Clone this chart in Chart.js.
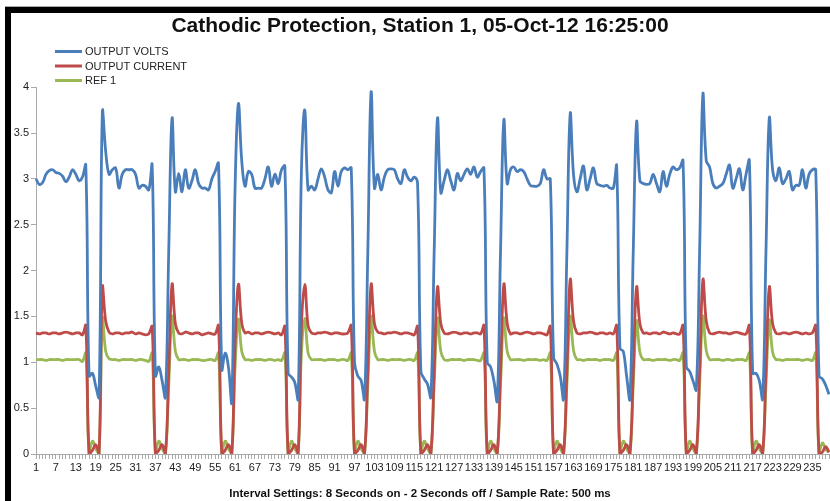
<!DOCTYPE html>
<html>
<head>
<meta charset="utf-8">
<script src="https://cdn.jsdelivr.net/npm/chart.js@4.4.1/dist/chart.umd.min.js"></script>
<style>
  html, body { margin: 0; padding: 0; background: #fff; overflow: hidden; width: 830px; height: 501px; }
  #wrap { position: absolute; left: 11px; top: 13px; width: 830px; height: 488px; }
  .bar { position: absolute; background: #000; }
</style>
</head>
<body>
<div class="bar" style="left:5px;top:6px;width:825px;height:1px;background:#aaa"></div>
<div class="bar" style="left:5px;top:7px;width:825px;height:6px"></div>
<div class="bar" style="left:5px;top:7px;width:6px;height:494px"></div>
<div id="wrap"><canvas id="lineChart"></canvas></div>
<script>
var titleText = "Cathodic Protection, Station 1, 05-Oct-12 16:25:00";
var footText = "Interval Settings: 8 Seconds on - 2 Seconds off / Sample Rate: 500 ms";
var seriesNames = ["OUTPUT VOLTS", "OUTPUT CURRENT", "REF 1"];
var seriesColors = ["#4A7EBB", "#BE4B48", "#98B954"];
var yTicks = [0, 0.5, 1, 1.5, 2, 2.5, 3, 3.5, 4];

// sample numbers 1..240
var samples = [];
for (var i = 1; i <= 240; i++) samples.push(String(i));

var outputVolts = [
  3.00,2.94,2.96,3.05,3.09,3.10,3.07,3.06,3.03,2.97,3.02,3.10,3.05,2.98,3.02,3.15,0.85,0.88,0.74,0.62,
  3.73,3.30,3.05,3.10,3.12,2.90,3.05,3.10,3.10,3.10,3.05,2.90,2.93,2.92,2.88,3.15,0.85,0.95,0.80,0.62,
  2.20,3.66,2.86,3.06,2.86,3.10,2.90,2.98,3.10,2.95,2.90,2.90,2.88,3.00,3.08,3.17,0.92,1.10,0.95,0.57,
  2.90,3.82,3.20,2.92,3.08,3.05,2.90,2.90,2.90,3.00,3.13,2.92,3.05,2.95,3.10,3.14,0.88,0.84,0.78,0.60,
  3.10,3.75,2.88,2.92,2.88,3.00,3.11,3.02,2.88,2.85,3.08,2.92,3.08,3.12,3.10,3.12,1.00,0.85,0.80,0.60,
  2.20,3.95,2.90,3.05,2.88,3.02,3.10,3.11,3.10,3.00,2.95,3.10,3.02,2.98,3.02,2.95,0.90,0.82,0.76,0.62,
  2.20,3.66,2.85,2.98,3.10,2.98,2.88,3.06,2.98,3.05,3.11,3.05,3.13,3.02,3.08,3.12,1.00,0.95,0.80,0.58,
  2.20,3.64,2.95,3.10,3.13,3.08,3.10,3.08,3.00,2.93,2.92,2.92,2.95,3.10,3.00,3.00,1.05,0.98,0.85,0.60,
  2.20,3.71,3.05,2.86,3.00,3.14,2.88,3.00,3.12,2.95,2.93,2.92,2.93,2.90,2.90,3.14,1.15,1.12,0.85,0.60,
  2.20,3.62,2.98,2.95,2.94,2.95,3.05,2.95,2.86,3.08,2.92,3.05,3.13,3.10,3.12,3.20,0.95,0.90,0.80,0.70,
  2.20,3.93,3.20,3.13,2.95,2.90,2.92,2.95,3.05,3.15,2.90,3.00,3.11,2.88,3.05,3.20,0.88,0.88,0.80,0.60,
  2.20,3.66,3.10,2.98,3.12,2.95,3.00,3.08,2.88,2.93,2.93,3.10,2.90,3.05,3.10,3.10,0.85,0.82,0.75,0.65
];

var outputCurrent = [
  1.32,1.31,1.32,1.32,1.31,1.32,1.32,1.31,1.32,1.33,1.32,1.31,1.32,1.32,1.30,1.40,0,0.04,0.10,0,
  1.82,1.45,1.33,1.31,1.32,1.32,1.31,1.32,1.32,1.33,1.31,1.32,1.31,1.30,1.31,1.39,0,0.04,0.10,0,
  0.90,1.85,1.42,1.32,1.31,1.33,1.32,1.31,1.32,1.32,1.30,1.31,1.32,1.31,1.31,1.40,0,0.04,0.10,0,
  1.20,1.85,1.43,1.32,1.33,1.31,1.32,1.32,1.31,1.32,1.33,1.32,1.31,1.32,1.30,1.39,0,0.04,0.10,0,
  1.40,1.85,1.40,1.32,1.31,1.32,1.32,1.33,1.32,1.31,1.32,1.32,1.31,1.31,1.32,1.40,0,0.04,0.10,0,
  0.90,1.85,1.42,1.33,1.32,1.31,1.32,1.32,1.33,1.32,1.31,1.32,1.32,1.31,1.30,1.39,0,0.04,0.10,0,
  0.90,1.82,1.42,1.32,1.31,1.32,1.33,1.32,1.31,1.32,1.32,1.31,1.32,1.32,1.31,1.40,0,0.04,0.10,0,
  0.90,1.85,1.43,1.31,1.32,1.32,1.31,1.32,1.33,1.32,1.31,1.32,1.32,1.31,1.30,1.39,0,0.04,0.10,0,
  0.90,1.90,1.45,1.32,1.31,1.32,1.32,1.33,1.32,1.31,1.32,1.32,1.31,1.32,1.31,1.40,0,0.04,0.10,0,
  0.90,1.82,1.42,1.32,1.32,1.31,1.32,1.32,1.31,1.33,1.32,1.31,1.32,1.31,1.31,1.40,0,0.04,0.10,0,
  0.90,1.90,1.45,1.32,1.31,1.32,1.33,1.32,1.32,1.31,1.32,1.33,1.32,1.31,1.31,1.40,0,0.04,0.10,0,
  0.90,1.82,1.42,1.32,1.31,1.32,1.32,1.31,1.32,1.33,1.32,1.31,1.32,1.31,1.32,1.40,0,0.02,0.08,0.02
];

var ref1 = [
  1.03,1.03,1.03,1.02,1.03,1.03,1.03,1.03,1.02,1.03,1.03,1.03,1.03,1.03,1.01,1.10,0,0.14,0.06,0,
  1.48,1.12,1.04,1.03,1.03,1.02,1.03,1.03,1.03,1.03,1.02,1.03,1.03,1.02,1.01,1.10,0,0.14,0.06,0,
  0.75,1.50,1.12,1.03,1.03,1.03,1.02,1.03,1.03,1.03,1.02,1.02,1.03,1.03,1.02,1.10,0,0.14,0.06,0,
  0.95,1.47,1.12,1.03,1.03,1.02,1.03,1.03,1.03,1.02,1.03,1.03,1.02,1.03,1.02,1.10,0,0.14,0.06,0,
  1.10,1.48,1.10,1.03,1.03,1.03,1.03,1.02,1.03,1.03,1.03,1.02,1.03,1.03,1.02,1.10,0,0.14,0.06,0,
  0.75,1.50,1.12,1.03,1.03,1.03,1.02,1.03,1.03,1.03,1.03,1.02,1.03,1.03,1.02,1.10,0,0.14,0.06,0,
  0.75,1.48,1.12,1.03,1.02,1.03,1.03,1.03,1.03,1.02,1.03,1.03,1.03,1.02,1.02,1.10,0,0.14,0.06,0,
  0.75,1.48,1.12,1.03,1.03,1.03,1.03,1.02,1.03,1.03,1.03,1.03,1.02,1.03,1.02,1.10,0,0.14,0.06,0,
  0.75,1.50,1.13,1.03,1.03,1.02,1.03,1.03,1.03,1.03,1.02,1.03,1.03,1.03,1.02,1.10,0,0.14,0.06,0,
  0.75,1.45,1.11,1.03,1.03,1.03,1.02,1.03,1.03,1.03,1.03,1.02,1.03,1.03,1.02,1.10,0,0.14,0.06,0,
  0.75,1.50,1.13,1.03,1.03,1.03,1.03,1.02,1.03,1.03,1.02,1.03,1.03,1.03,1.02,1.10,0,0.14,0.06,0,
  0.75,1.46,1.11,1.03,1.03,1.02,1.03,1.03,1.03,1.03,1.03,1.02,1.03,1.03,1.02,1.10,0,0.12,0.05,0.02
];

// vertical legend in the top left corner
var legendPlugin = {
  id: 'leftLegend',
  afterDraw: function (chart) {
    var ctx = chart.ctx;
    ctx.save();
    ctx.font = '11px "Liberation Sans", sans-serif';
    ctx.textBaseline = 'middle';
    chart.data.datasets.forEach(function (ds, i) {
      var y = 38.5 + i * 14.5;
      ctx.strokeStyle = ds.borderColor;
      ctx.lineWidth = 3;
      ctx.beginPath();
      ctx.moveTo(44, y);
      ctx.lineTo(71, y);
      ctx.stroke();
      ctx.fillStyle = '#222';
      ctx.fillText(ds.label, 74, y + 0.5);
    });
    ctx.restore();
  }
};

var lineData = {
  labels: samples,
  datasets: [
    { label: seriesNames[0], data: outputVolts, borderColor: seriesColors[0] },
    { label: seriesNames[1], data: outputCurrent, borderColor: seriesColors[1] },
    { label: seriesNames[2], data: ref1, borderColor: seriesColors[2] }
  ]
};

var lineOptions = {
  responsive: true,
  maintainAspectRatio: false,
  animation: false,
  layout: { padding: { right: 12 } },
  elements: {
    line: { borderWidth: 2.8, tension: 0.4, fill: false },
    point: { radius: 0 }
  },
  plugins: {
    legend: { display: false },
    tooltip: { enabled: false },
    title: {
      display: true,
      text: titleText,
      color: '#111',
      font: { family: '"Liberation Sans", sans-serif', size: 21, weight: 'bold' },
      padding: { top: 1, bottom: 48 }
    },
    subtitle: {
      display: true,
      position: 'bottom',
      text: footText,
      color: '#111',
      font: { family: '"Liberation Sans", sans-serif', size: 11.5, weight: 'bold' },
      padding: { top: 11, bottom: 0 }
    }
  },
  scales: {
    x: {
      offset: false,
      grid: { drawOnChartArea: false, drawTicks: true, tickLength: 5, color: '#aaa' },
      border: { color: '#aaa' },
      ticks: {
        autoSkip: false,
        maxRotation: 0,
        minRotation: 0,
        padding: 2,
        color: '#222',
        font: { family: '"Liberation Sans", sans-serif', size: 11 },
        callback: function (val, idx) {
          return idx % 6 === 0 ? this.getLabelForValue(val) : '';
        }
      }
    },
    y: {
      min: 0,
      max: 4,
      afterFit: function (scale) { scale.width = 25; },
      afterBuildTicks: function (scale) {
        scale.ticks = yTicks.map(function (v) { return { value: v }; });
      },
      grid: { drawOnChartArea: false, drawTicks: true, tickLength: 5, color: '#aaa' },
      border: { color: '#aaa' },
      ticks: {
        padding: 2,
        color: '#222',
        font: { family: '"Liberation Sans", sans-serif', size: 11 },
        callback: function (v) { return String(v); }
      }
    }
  }
};

var ctx = document.getElementById("lineChart").getContext("2d");
new Chart(ctx, { type: 'line', data: lineData, options: lineOptions, plugins: [legendPlugin] });
</script>
</body>
</html>
